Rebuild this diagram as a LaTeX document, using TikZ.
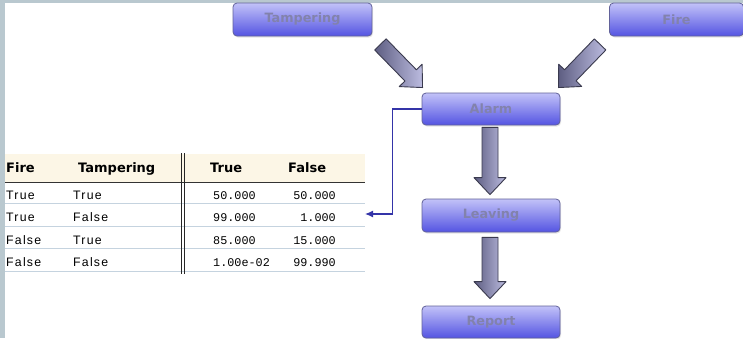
\documentclass[tikz,border=0pt]{standalone}
\usepackage{fontspec}
\setmainfont{DejaVu Sans}
\newfontfamily\rowfont[LetterSpace=10]{Liberation Sans}
\newfontfamily\numfont{Liberation Mono}
\usetikzlibrary{calc,arrows.meta,shadows}
\definecolor{bgstrip}{HTML}{B9C8CF}
\definecolor{boxtop}{HTML}{C2C2F8}
\definecolor{boxbot}{HTML}{5454E2}
\definecolor{boxedge}{HTML}{62629A}
\definecolor{boxtext}{HTML}{8282AC}
\definecolor{arrdark}{HTML}{5E5E82}
\definecolor{arrlight}{HTML}{BCBCE0}
\definecolor{arredge}{HTML}{3A3A4E}
\definecolor{hdrbg}{HTML}{FCF6E6}
\definecolor{rowline}{HTML}{C5D3DF}
\definecolor{connblue}{HTML}{3434A8}
\tikzset{
 box/.style={draw=boxedge, line width=0.8pt, rounded corners=4pt, top color=boxtop, bottom color=boxbot, minimum height=32pt, inner sep=0pt, text=boxtext, font=\bfseries\fontsize{12.8}{14}\selectfont, drop shadow={opacity=0.2, shadow xshift=1pt, shadow yshift=-1.5pt}},
 blockarrow/.style={draw=arredge, line width=0.9pt, left color=arrdark, right color=arrlight, line join=round},
 conn/.style={draw=connblue, line width=1.2pt, -{Latex[length=8pt,width=7pt]}},
 hdr/.style={anchor=base west, inner sep=0pt, font=\bfseries\fontsize{13}{15}\selectfont},
 cell/.style={anchor=base west, inner sep=0pt, font=\rowfont\fontsize{12.3}{14}\selectfont},
 num/.style={anchor=base west, inner sep=0pt, font=\numfont\fontsize{11.8}{13}\selectfont},
 numr/.style={num, anchor=base east},
}
\newcommand\blockarr[2]{%
  \path let \p1=($(#2)-(#1)$) in \pgfextra{\pgfmathsetmacro\myang{atan2(\y1,\x1)}\pgfmathsetmacro\mylen{veclen(\x1,\y1)}\global\let\arrang\myang\global\let\arrlen\mylen};
  \draw[blockarrow, shift={(#1)}, rotate=\arrang] (0,-8) -- ({\arrlen-17},-8) -- ({\arrlen-17},-16) -- (\arrlen,0) -- ({\arrlen-17},16) -- ({\arrlen-17},8) -- (0,8) -- cycle;
}
\begin{document}
\begin{tikzpicture}[x=1pt,y=1pt]
\useasboundingbox (0,0) rectangle (743,-338);
\fill[white] (0,0) rectangle (743,-338);
\fill[bgstrip] (0,0) rectangle (743,-3);
\fill[bgstrip] (0,0) rectangle (5,-338);
% nodes
\node[box, minimum width=139pt, minimum height=33pt] (tamp) at (302.5,-19.5) {Tampering};
\node[box, minimum width=134pt, minimum height=33pt] (fire) at (676.5,-19.5) {Fire};
\node[box, minimum width=138pt] (alarm) at (491,-109) {Alarm};
\node[box, minimum width=138pt, minimum height=33pt] (leav) at (491,-215.5) {Leaving};
\node[box, minimum width=138pt] (rep) at (491,-322) {Report};
% block arrows
\coordinate (a1s) at ($(tamp.south east)+(8,-8)$);
\coordinate (a1e) at ($(alarm.north west)+(1,5)$);
\coordinate (a2s) at ($(fire.south west)+(-9,-8)$);
\coordinate (a2e) at ($(alarm.north east)+(-2,5)$);
\coordinate (a3s) at ($(alarm.south)+(-1,-2)$);
\coordinate (a3e) at ($(leav.north)+(-1,4)$);
\coordinate (a4s) at ($(leav.south)+(-1,-5)$);
\coordinate (a4e) at ($(rep.north)+(-1,7)$);
\blockarr{a1s}{a1e}
\blockarr{a2s}{a2e}
\blockarr{a3s}{a3e}
\blockarr{a4s}{a4e}
% table
\fill[hdrbg] (5,-154) rectangle (365,-182);
\draw[line width=0.9pt, black!80] (5,-182) -- (365,-182);
\foreach \yy in {203.5,226,248.5,271} \draw[rowline, line width=0.8pt] (5,-\yy) -- (365,-\yy);
\draw[line width=0.9pt, black!85] (181,-153) -- (181,-274);
\draw[line width=0.9pt, black!85] (184,-153) -- (184,-274);
\node[hdr] (h1) at (6,-172) {Fire};
\node[hdr] (h2) at (78,-172) {Tampering};
\node[hdr] (h3) at (210,-172) {True};
\node[hdr] (h4) at (288,-172) {False};
\node[cell] (r1a) at (6,-199) {True};
\node[cell] (r1b) at (73,-199) {True};
\node[num] (r1c) at (213,-199) {50.000};
\node[numr] (r1d) at (336,-199) {50.000};
\node[cell] (r2a) at (6,-221.5) {True};
\node[cell] (r2b) at (73,-221.5) {False};
\node[num] (r2c) at (213,-221.5) {99.000};
\node[numr] (r2d) at (336,-221.5) {1.000};
\node[cell] (r3a) at (6,-244) {False};
\node[cell] (r3b) at (73,-244) {True};
\node[num] (r3c) at (213,-244) {85.000};
\node[numr] (r3d) at (336,-244) {15.000};
\node[cell] (r4a) at (6,-266.5) {False};
\node[cell] (r4b) at (73,-266.5) {False};
\node[num] (r4c) at (213,-266.5) {1.00e-02};
\node[numr] (r4d) at (336,-266.5) {99.990};
% connector
\coordinate (tabin) at (365,-214);
\draw[conn] (alarm.west) -- ++(-29,0) |- (tabin);
\end{tikzpicture}
\end{document}
